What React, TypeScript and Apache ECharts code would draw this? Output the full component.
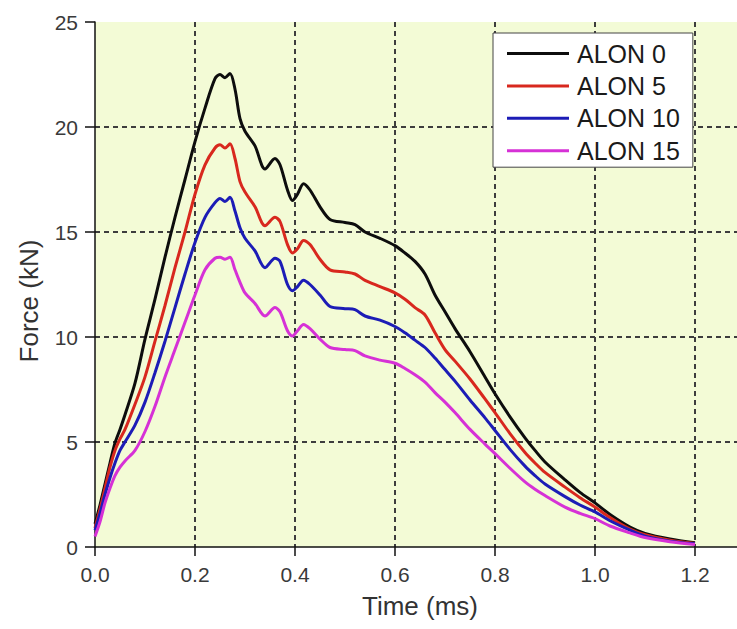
import React, { useEffect, useRef } from 'react';
import * as echarts from 'echarts';

const TIME = [0, 0.01, 0.02, 0.03, 0.04, 0.05, 0.06, 0.08, 0.10, 0.12, 0.14, 0.16, 0.18, 0.20, 0.22, 0.24, 0.25, 0.26, 0.27, 0.28, 0.29, 0.30, 0.32, 0.34, 0.36, 0.37, 0.385, 0.395, 0.405, 0.417, 0.43, 0.45, 0.47, 0.50, 0.52, 0.54, 0.57, 0.60, 0.62, 0.64, 0.66, 0.68, 0.70, 0.72, 0.75, 0.78, 0.80, 0.83, 0.86, 0.88, 0.90, 0.94, 0.97, 1.00, 1.03, 1.07, 1.10, 1.15, 1.20];

const ALON_0 = [1.1, 2.0, 3.0, 4.0, 4.95, 5.6, 6.3, 7.8, 9.9, 11.8, 13.8, 15.7, 17.5, 19.3, 20.9, 22.3, 22.5, 22.35, 22.55, 21.8, 20.4, 19.8, 19.1, 18.0, 18.5, 18.2, 17.0, 16.5, 16.8, 17.3, 17.0, 16.2, 15.6, 15.45, 15.35, 15.0, 14.7, 14.35, 14.0, 13.6, 13.0, 12.0, 11.2, 10.4, 9.3, 8.1, 7.3, 6.2, 5.2, 4.6, 4.05, 3.2, 2.6, 2.1, 1.55, 0.95, 0.65, 0.38, 0.2];
const ALON_5 = [0.9, 1.8, 2.8, 3.8, 4.6, 5.15, 5.6, 6.8, 8.1, 9.8, 11.5, 13.3, 15.0, 16.8, 18.2, 19.0, 19.15, 19.0, 19.2, 18.5, 17.4, 16.9, 16.2, 15.3, 15.7, 15.5, 14.4, 14.0, 14.2, 14.6, 14.4, 13.7, 13.2, 13.1, 13.0, 12.7, 12.4, 12.1, 11.8, 11.4, 11.05, 10.2, 9.4, 8.85, 8.0, 7.05, 6.4, 5.4, 4.5, 4.0, 3.55, 2.85, 2.35, 1.9, 1.4, 0.85, 0.58, 0.32, 0.17];
const ALON_10 = [0.8, 1.6, 2.5, 3.3, 4.0, 4.6, 5.0, 5.8, 6.9, 8.3, 9.8, 11.4, 13.0, 14.5, 15.7, 16.4, 16.6, 16.45, 16.65, 16.0, 15.2, 14.7, 14.1, 13.3, 13.75, 13.6, 12.5, 12.2, 12.4, 12.7, 12.5, 12.0, 11.45, 11.35, 11.3, 11.0, 10.8, 10.5, 10.2, 9.85, 9.5, 9.0, 8.45, 7.9, 7.0, 6.15, 5.55, 4.65, 3.85, 3.4, 3.0, 2.4, 2.0, 1.67, 1.25, 0.8, 0.52, 0.28, 0.15];
const ALON_15 = [0.5, 1.2, 2.1, 2.8, 3.4, 3.8, 4.1, 4.6, 5.5, 6.7, 8.1, 9.4, 10.7, 12.0, 13.2, 13.75, 13.8, 13.7, 13.8, 13.2, 12.6, 12.1, 11.6, 11.0, 11.4, 11.2, 10.3, 10.05, 10.3, 10.6, 10.4, 9.9, 9.5, 9.4, 9.35, 9.1, 8.9, 8.75, 8.5, 8.2, 7.85, 7.35, 6.9, 6.4, 5.6, 4.9, 4.45, 3.75, 3.1, 2.75, 2.45, 1.9, 1.6, 1.35, 1.0, 0.67, 0.45, 0.25, 0.12];

const SERIES_NAMES = ['ALON 0', 'ALON 5', 'ALON 10', 'ALON 15'];
const SERIES_VALUES = [ALON_0, ALON_5, ALON_10, ALON_15];
const SERIES_COLORS = ['#0d0d0d', '#d8281e', '#1c1cb6', '#d631d6'];

const X_TITLE = 'Time (ms)';
const Y_TITLE = 'Force (kN)';

export default function App() {
  const ref = useRef<HTMLDivElement>(null);

  useEffect(() => {
    if (!ref.current) return;
    const chart = echarts.init(ref.current, null, { renderer: 'svg' });
    const font = '"Liberation Sans", Arial, sans-serif';
    const gridLine = { show: true, showMinLine: false, showMaxLine: false, lineStyle: { color: '#3d3d3d', width: 2, type: [5, 4] as any } };
    chart.setOption({
      animation: false,
      backgroundColor: '#ffffff',
      grid: {
        show: true,
        left: 95,
        right: 0,
        top: 22,
        bottom: 82,
        backgroundColor: '#f3fbd6',
        borderWidth: 0,
      },
      legend: {
        orient: 'vertical',
        left: 493,
        top: 33,
        backgroundColor: '#ffffff',
        borderColor: '#444',
        borderWidth: 1,
        padding: [8, 13, 4, 14],
        icon: 'rect',
        itemWidth: 62,
        itemHeight: 3,
        itemGap: 7.4,
        textStyle: { fontFamily: font, fontSize: 25, color: '#1a1a1a', padding: [0, 0, 0, 3] },
        data: SERIES_NAMES,
      },
      xAxis: {
        type: 'value',
        min: 0,
        max: 1.3,
        interval: 0.2,
        name: X_TITLE,
        nameLocation: 'middle',
        nameGap: 46,
        nameTextStyle: { fontFamily: font, fontSize: 26, color: '#333' },
        axisLine: { show: true, onZero: false, lineStyle: { color: '#111', width: 1.5 } },
        axisTick: { show: true, inside: false, length: 9, lineStyle: { color: '#111', width: 1.5 } },
        axisLabel: {
          fontFamily: font,
          fontSize: 21,
          color: '#3a3a3a',
          margin: 17,
          showMaxLabel: false,
          formatter: (v: number) => (v > 1.21 ? '' : v.toFixed(1)),
        },
        splitLine: gridLine,
      },
      yAxis: {
        type: 'value',
        min: 0,
        max: 25,
        interval: 5,
        name: Y_TITLE,
        nameLocation: 'middle',
        nameGap: 53,
        nameRotate: 90,
        nameTextStyle: { fontFamily: font, fontSize: 26, color: '#333', padding: [0, 33, 0, 0] },
        axisLine: { show: true, onZero: false, lineStyle: { color: '#111', width: 1.5 } },
        axisTick: { show: true, inside: false, length: 10, lineStyle: { color: '#111', width: 1.5 } },
        axisLabel: { fontFamily: font, fontSize: 21, color: '#3a3a3a', margin: 17 },
        splitLine: gridLine,
      },
      series: SERIES_NAMES.map((name, i) => ({
        name,
        type: 'line',
        data: TIME.map((t, j) => [t, SERIES_VALUES[i][j]]),
        showSymbol: false,
        symbol: 'none',
        smooth: 0.3,
        color: SERIES_COLORS[i],
        lineStyle: { color: SERIES_COLORS[i], width: 3 },
      })),
    });
    return () => chart.dispose();
  }, []);

  return (
    <div style={{ position: 'absolute', left: 0, top: 0, width: 737, height: 629, overflow: 'hidden', background: '#fff' }}>
      <div ref={ref} style={{ width: 745, height: 629 }} />
    </div>
  );
}
